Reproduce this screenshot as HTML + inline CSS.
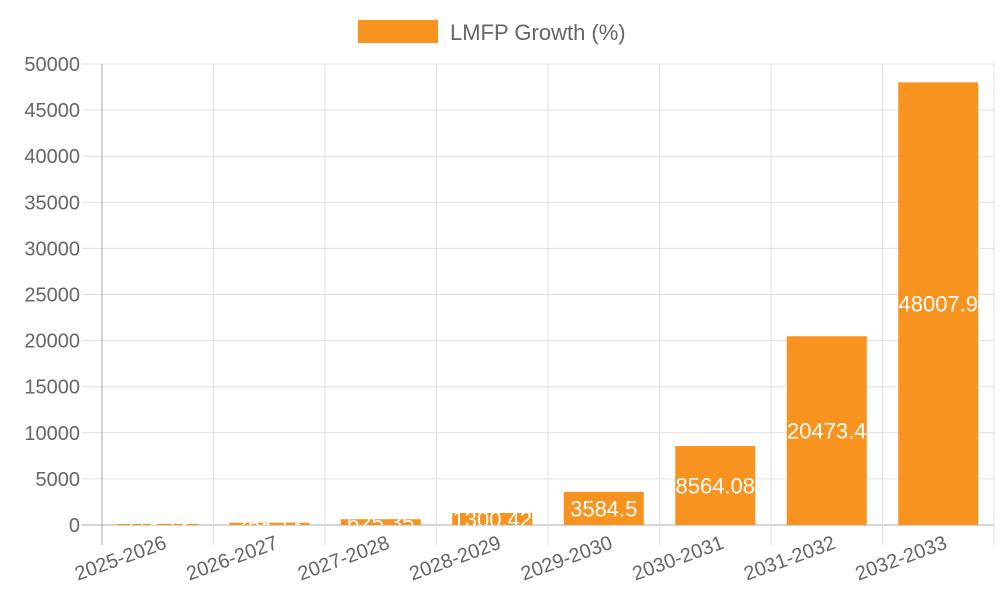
<!DOCTYPE html>
<html><head><meta charset="utf-8"><style>
body{margin:0;background:#fff}
svg text{font-family:"Liberation Sans",sans-serif}
</style></head><body>
<svg width="1000" height="600" id="c">
<g>
<rect x="358" y="20" width="80" height="23" fill="#f7931e"/>
<text x="450" y="40" font-size="22" fill="#666">LMFP Growth (%)</text>
</g>
<g id="grid"></g><g id="bars"></g><g id="axes"></g>
</svg>
<script>
const categories=["2025-2026","2026-2027","2027-2028","2028-2029","2029-2030","2030-2031","2031-2032","2032-2033"];
const values=[118.73,258.13,625.35,1300.42,3584.5,8564.08,20473.4,48007.9];
const labels=["118.73","258.13","625.35","1300.42","3584.5","8564.08","20473.4","48007.9"];
const yTicks=[0,5000,10000,15000,20000,25000,30000,35000,40000,45000,50000];
const NS="http://www.w3.org/2000/svg";
const L=102,R=994,T=64,B=525,yMax=50000;
const y=v=>B-(v/yMax)*(B-T);
const bw=(R-L)/categories.length;
const x=i=>L+bw*i;
function mk(tag,attrs,parent){const e=document.createElementNS(NS,tag);for(const k in attrs)e.setAttribute(k,attrs[k]);parent.appendChild(e);return e;}
const grid=document.getElementById('grid'),bars=document.getElementById('bars'),axes=document.getElementById('axes');
const defs=mk('defs',{},document.getElementById('c'));
yTicks.forEach(t=>{
 const l=mk('line',{x1:82,x2:R,y1:y(t),y2:y(t),stroke:t===0?'#aaa':'#e0e0e0','stroke-width':1},grid);
 
 
 const tx=mk('text',{x:80,y:y(t)+7,'text-anchor':'end','font-size':20,fill:'#666'},axes);
 tx.textContent=t;
 
 
});
for(let i=0;i<=categories.length;i++){
 const l=mk('line',{x1:x(i),x2:x(i),y1:T,y2:B+20,stroke:i===0?'#aaa':'#e0e0e0'},grid);
 
 
}
categories.forEach((c,i)=>{
 const bx=x(i)+(bw-80)/2,by=y(values[i]),bh=B-by;
 const cp=mk('clipPath',{id:'cp'+i},defs);
 mk('rect',{x:bx,y:by,width:80,height:bh},cp);
 const r=mk('rect',{x:bx,y:by,width:80,height:bh,fill:'#f7931e'},bars);
 
 
 const t=mk('text',{x:bx+40,y:(by+B)/2+8,'text-anchor':'middle','font-size':22,fill:'#fff','clip-path':'url(#cp'+i+')'},bars);
 t.textContent=labels[i];
 
 
 const cx=x(i)+bw/2;
 const xl=mk('text',{x:cx+10,y:548,'text-anchor':'end','font-size':20,fill:'#666',transform:`rotate(-20 ${cx+10} 548)`},axes);
 xl.textContent=c;
 
 
});
</script>
</body></html>
